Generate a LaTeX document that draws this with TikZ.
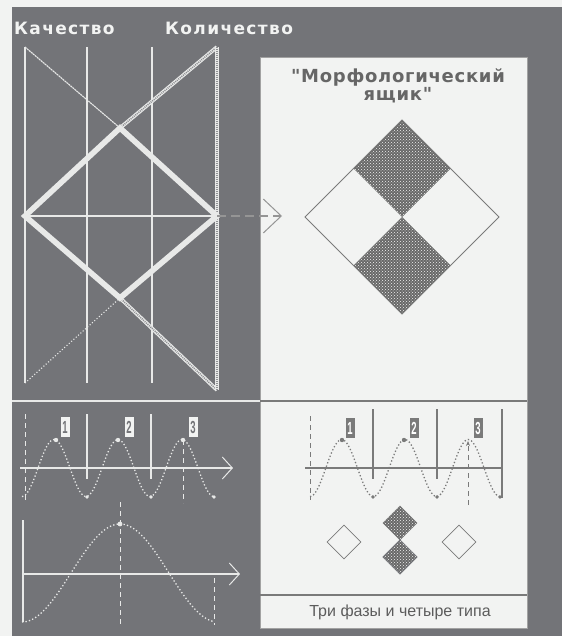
\documentclass[tikz,border=0pt]{standalone}
\usepackage{fontspec}
\setmainfont{Liberation Sans}
\newfontfamily\headfont{DejaVu Sans}
\usetikzlibrary{arrows.meta, patterns, shapes.geometric, positioning}
\definecolor{cpanel}{HTML}{737478}
\definecolor{clight}{HTML}{F2F3F2}
\definecolor{cline}{HTML}{E8E9E8}
\definecolor{cgrid}{HTML}{7A7A7A}
\definecolor{ctext}{HTML}{666666}
\newcommand\digit[1]{\scalebox{0.95}[1.75]{\bfseries #1}}

\begin{document}
\begin{tikzpicture}[x=1pt, y=-1pt,
  thinln/.style={draw=cline, line width=1.1pt},
  boldln/.style={draw=cline, line width=5.6pt, line join=miter},
  hatch/.style={draw=cline, line width=3.8pt,
                postaction={draw=cpanel!80!white, line width=1.6pt, dash pattern=on 1pt off 1pt}},
  wave/.style={dash pattern=on 1.3pt off 2.2pt, line width=1.3pt},
  vdash/.style={dash pattern=on 5pt off 4pt, line width=1pt},
  cell/.style={fill=cgrid!85!black, postaction={pattern=crosshatch dots, pattern color=clight}},
  rh/.style={diamond, draw=cgrid, line width=0.8pt, minimum width=34pt, minimum height=34pt, inner sep=0pt},
  num/.style={font=\fontsize{10}{10}\selectfont, inner sep=0pt, minimum width=9pt, minimum height=20pt},
  head/.style={font=\headfont\bfseries\fontsize{17}{18}\selectfont\addfontfeature{LetterSpace=8},
               text=clight, inner sep=0pt},
  axarr/.style={-{Straight Barb[length=10pt, width=22pt, line width=1pt]}},
  arr/.style={-{Straight Barb[length=18pt, width=34pt, line width=1pt]}, dash pattern=on 9pt off 5pt,
              line width=1.1pt, draw=cgrid!80!white}
]
\useasboundingbox (0,0) rectangle (562,636);
\fill[clight] (0,0) rectangle (562,636);
\fill[cpanel] (12,7) rectangle (562,636);
\filldraw[fill=clight, draw=cgrid!70] (260,57) rectangle (527,628);
\draw[cline, line width=1.3pt] (12,401) -- (260,401);
\draw[cgrid, line width=1.3pt] (260,401) -- (527,401);
\draw[cgrid, line width=1.1pt] (260,595) -- (527,595);

\node[head, anchor=base west] (qual) at (14,35) {Качество};
\node[head, anchor=base west] (quant) at (165,35) {Количество};

\coordinate (qL) at (25,216);
\coordinate (qT) at (120,128);
\coordinate (qR) at (217,216);
\coordinate (qB) at (120,298);
\foreach \x in {25,87,152}
  \draw[thinln] (\x,47) -- (\x,383);
\draw[thinln, dash pattern=on 2pt off 0.6pt] (25,47) -- (qT);
\draw[thinln, dotted] (25,383) -- (qB);
\draw[hatch] (qT) -- (217,47);
\draw[hatch] (qB) -- (217,390);
\draw[hatch] (217,47) -- (217,390);
\draw[draw=cline, line width=2pt] (qL) -- (qR);
\draw[boldln] (qL) -- (qT) -- (qR) -- (qB) -- cycle;

\node[font=\headfont\bfseries\fontsize{18}{15}\selectfont\addfontfeature{LetterSpace=4}, text=ctext, align=center] (title) at (398,86)
  {"Морфологический\\ящик"};
\coordinate (mT) at (402,120);
\coordinate (mR) at (499,217);
\coordinate (mB) at (402,314);
\coordinate (mL) at (305,217);
\coordinate (mC) at (402,217);
\path[cell] (mT) -- (450.5,168.5) -- (mC) -- (353.5,168.5) -- cycle;
\path[cell] (mC) -- (450.5,265.5) -- (mB) -- (353.5,265.5) -- cycle;
\draw[cgrid, line width=0.8pt] (mT) -- (mR) -- (mB) -- (mL) -- cycle;
\draw[arr] (qR) -- (282,216);

\begin{scope}[draw=cline]
\draw[thinln, axarr] (20,468) -- (233,468);
\foreach \x in {87,151}
  \draw[thinln] (\x,414) -- (\x,479);
\draw[cline, vdash] (25,414) -- (25,500);
\draw[cline, vdash] (183,440) -- (183,503);
\draw[cline, wave] plot[domain=22:214, samples=120] (\x, {468+28.5*cos(5.625*(\x-22))});
\foreach \x in {56,118,183}
  \fill[cline] (\x,440) circle (2.2pt);
\foreach \x in {87,151,214}
  \fill[cline] (\x,497) circle (1.8pt);
\node[num, fill=clight, text=cpanel] (a1) at (65,427) {\digit{1}};
\node[num, fill=clight, text=cpanel] (a2) at (129,427) {\digit{2}};
\node[num, fill=clight, text=cpanel] (a3) at (193,427) {\digit{3}};

\draw[thinln, axarr] (22,574) -- (240,574);
\draw[thinln] (23,520) -- (23,622);
\draw[cline, wave] plot[domain=22:214, samples=120] (\x, {573+49*cos(1.8367*(\x-22))});
\draw[cline, vdash] (120,502) -- (120,627);
\draw[cline, vdash] (214,578) -- (214,625);
\fill[cline] (120,524) circle (2.4pt);
\end{scope}

\draw[cgrid, line width=1.1pt] (305,468) -- (502,468);
\foreach \x in {373,437}
  \draw[cgrid, line width=1.1pt] (\x,409) -- (\x,479);
\draw[cgrid, line width=1.1pt] (502,409) -- (502,498);
\draw[cgrid, vdash] (310,416) -- (310,500);
\draw[cgrid, vdash, -{Stealth[length=5pt, width=4pt]}] (468,505) -- (468,441);
\draw[cgrid, wave] plot[domain=310:500, samples=120] (\x, {468+28.5*cos(5.687*(\x-310))});
\foreach \x in {342,404}
  \fill[cgrid] (\x,440) circle (2.2pt);
\foreach \x in {373,437,500}
  \fill[cgrid] (\x,497) circle (1.8pt);
\node[num, fill=cgrid, text=white] (b1) at (350,428) {\digit{1}};
\node[num, fill=cgrid, text=white] (b2) at (414,428) {\digit{2}};
\node[num, fill=cgrid, text=white] (b3) at (478,428) {\digit{3}};

\node[rh] (dL) at (344,542) {};
\node[rh, cell] (dT) at (400,523) {};
\node[rh, cell, draw=cpanel, line width=1.4pt] (dB) at (400,557) {};
\node[rh] (dR) at (459,542) {};

\node[font=\fontsize{16}{18}\selectfont, text=ctext!90!black] (cap) at (400,612) {Три фазы и четыре типа};
\end{tikzpicture}
\end{document}
